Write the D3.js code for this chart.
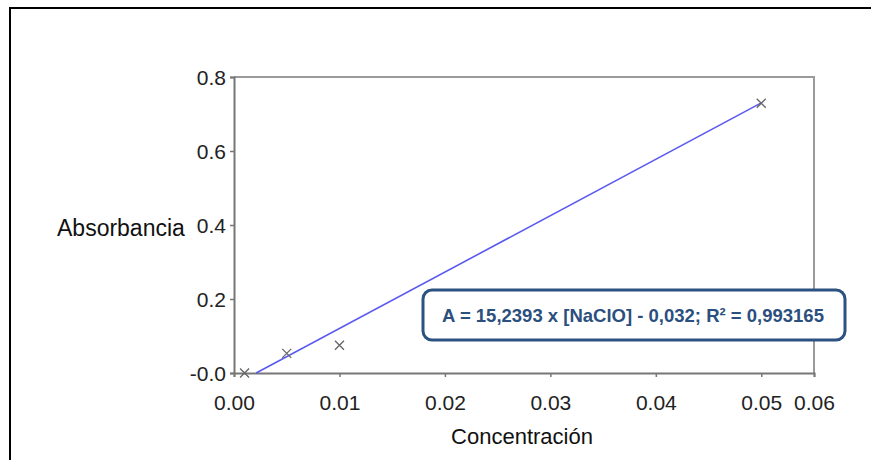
<!DOCTYPE html>
<html><head><meta charset="utf-8">
<script src="https://cdn.jsdelivr.net/npm/d3@7"></script>
<style>body{margin:0;background:#fff}svg{display:block}</style>
</head><body>
<script>
const concentracion = [0.001, 0.005, 0.01, 0.05];
const absorbancia = [0.0, 0.053, 0.075, 0.729];
const xTicks = [0, 0.01, 0.02, 0.03, 0.04, 0.05, 0.055];
const xTickLabels = ["0.00", "0.01", "0.02", "0.03", "0.04", "0.05", "0.06"];
const yTicks = [0, 0.2, 0.4, 0.6, 0.8];
const yTickLabels = ["-0.0", "0.2", "0.4", "0.6", "0.8"];
const slope = 15.2393, intercept = -0.032;
const eqText = "A = 15,2393 x [NaClO] - 0,032; R² = 0,993165";

const W = 871, H = 460;
const svg = d3.select("body").append("svg").attr("width", W).attr("height", H);
svg.append("rect").attr("x", 10).attr("y", 8).attr("width", 880).attr("height", 470)
  .attr("fill", "#fff").attr("stroke", "#000").attr("stroke-width", 2);

const L = 234, R = 814, T = 77, B = 373;
const x = d3.scaleLinear().domain([0, 0.055]).range([L, R]);
const y = d3.scaleLinear().domain([0, 0.8]).range([B, T]);

// frame
svg.append("path").attr("d", `M${L},${T}H${R}V${B}`).attr("fill", "none")
  .attr("stroke", "#9a9a9a").attr("stroke-width", 2);

const font = "Liberation Sans, Arial, sans-serif";
const xAxis = d3.axisBottom(x).tickValues(xTicks).tickSize(4).tickFormat((d, i) => xTickLabels[i]);
const gx = svg.append("g").attr("transform", `translate(0,${B})`).call(xAxis);
const yAxis = d3.axisLeft(y).tickValues(yTicks).tickSize(4).tickFormat((d, i) => yTickLabels[i]);
const gy = svg.append("g").attr("transform", `translate(${L},0)`).call(yAxis);
[gx, gy].forEach(g => {
  g.select(".domain").attr("stroke", "#777").attr("stroke-width", 2);
  g.selectAll(".tick line").attr("stroke", "#777").attr("stroke-width", 1.5);
  g.selectAll(".tick text").attr("fill", "#222").style("font-family", font).style("font-size", "21px");
});
gx.selectAll(".tick text").attr("y", 22).attr("dy", "0.71em");
gy.selectAll(".tick text").attr("x", -8).attr("dy", "0.35em");

// fit line
const x0 = -intercept / slope, x1 = 0.05;
svg.append("line").attr("x1", x(x0)).attr("y1", y(slope * x0 + intercept))
  .attr("x2", x(x1)).attr("y2", y(slope * x1 + intercept))
  .attr("stroke", "#5a5af0").attr("stroke-width", 1.6);

// markers
const s = 4.5;
const pts = svg.append("g").attr("stroke", "#666").attr("stroke-width", 1.3);
concentracion.forEach((c, i) => {
  const px = x(c), py = y(absorbancia[i]);
  pts.append("path").attr("d", `M${px - s},${py - s}L${px + s},${py + s}M${px - s},${py + s}L${px + s},${py - s}`);
});

// axis titles
svg.append("text").attr("x", 57).attr("y", 236).text("Absorbancia")
  .style("font-family", font).style("font-size", "23px").attr("fill", "#111");
svg.append("text").attr("x", 522).attr("y", 444).attr("text-anchor", "middle").text("Concentración")
  .style("font-family", font).style("font-size", "22px").attr("fill", "#111");

// equation box
svg.append("rect").attr("x", 423).attr("y", 290).attr("width", 422).attr("height", 50)
  .attr("rx", 9).attr("fill", "#fff").attr("stroke", "#2c5282").attr("stroke-width", 3);
svg.append("text").attr("x", 633).attr("y", 322).attr("text-anchor", "middle").text(eqText)
  .style("font-family", font).style("font-size", "18.5px").style("font-weight", "bold").attr("fill", "#2b4f7e");
</script>
</body></html>
